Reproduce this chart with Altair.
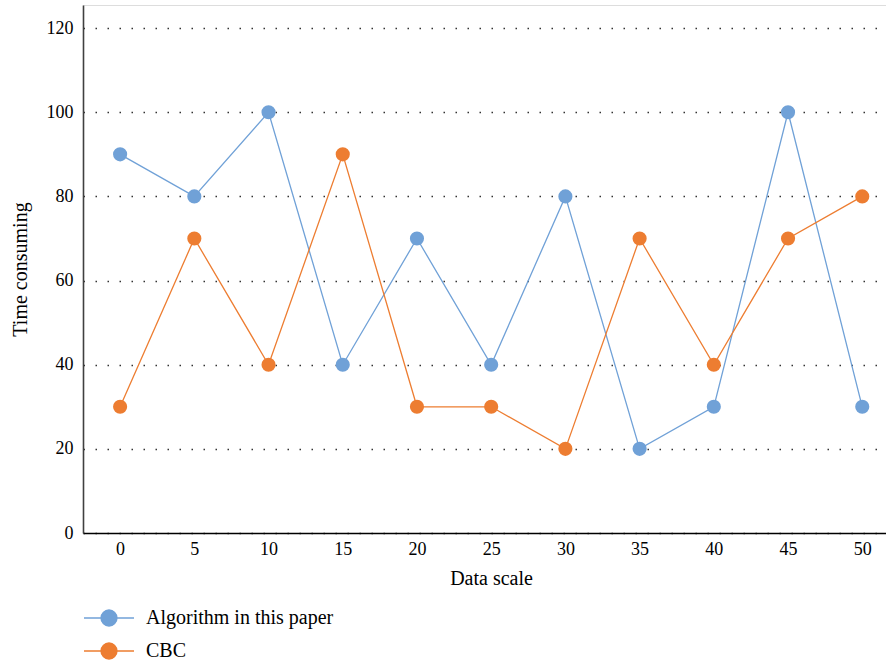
import altair as alt
import pandas as pd

# Data scale (x) and time consumed by each method
data_scale = [0, 5, 10, 15, 20, 25, 30, 35, 40, 45, 50]
algorithm_time = [90, 80, 100, 40, 70, 40, 80, 20, 30, 100, 30]
cbc_time = [30, 70, 40, 90, 30, 30, 20, 70, 40, 70, 80]

series_names = ["Algorithm in this paper", "CBC"]
series_colors = ["#70A1D7", "#ED7D31"]
y_ticks = [0, 20, 40, 60, 80, 100, 120]

rows = []
for name, values in zip(series_names, [algorithm_time, cbc_time]):
    for x, v in zip(data_scale, values):
        rows.append({"scale": x, "time": v, "series": name})
df = pd.DataFrame(rows)

FONT = "Liberation Serif"

# legend glyph: a short line through a filled circle
legend_path = ("M-1.515,0H1.515"
               "M0.485,0A0.485,0.485,0,1,1,-0.485,0A0.485,0.485,0,1,1,0.485,0Z")

color = alt.Color(
    "series:N",
    scale=alt.Scale(domain=series_names, range=series_colors),
    legend=alt.Legend(
        title=None,
        orient="none",
        legendX=8.5,
        legendY=595.5,
        direction="vertical",
        symbolType=legend_path,
        symbolSize=1089,
        symbolStrokeWidth=1.3,
        symbolOpacity=1,
        labelFont=FONT,
        labelFontSize=20,
        labelColor="#000000",
        labelOffset=19.5,
        labelLimit=0,
        rowPadding=4,
        padding=0,
    ),
)

x = alt.X(
    "scale:Q",
    scale=alt.Scale(domain=[-2.5, 51.6], nice=False, zero=False),
    axis=alt.Axis(
        values=data_scale,
        title="Data scale",
        grid=False,
        ticks=False,
        tickSize=0,
        domainColor="#000000",
        domainWidth=1.4,
        labelFont=FONT,
        labelFontSize=18,
        labelColor="#000000",
        labelPadding=7,
        titleFont=FONT,
        titleFontSize=20,
        titleFontWeight="normal",
        titleColor="#000000",
        titleX=408,
        titleY=45,
        titleBaseline="middle",
    ),
)

y = alt.Y(
    "time:Q",
    scale=alt.Scale(domain=[0, 125.5], nice=False),
    axis=alt.Axis(
        values=y_ticks,
        title="Time consuming",
        grid=True,
        gridColor="#333333",
        gridDash=[1.5, 10.5],
        gridWidth=1.3,
        ticks=False,
        tickSize=0,
        domainColor="#404040",
        domainWidth=1.6,
        labelFont=FONT,
        labelFontSize=18,
        labelColor="#000000",
        labelPadding=10,
        titleFont=FONT,
        titleFontSize=20,
        titleFontWeight="normal",
        titleColor="#000000",
        titleX=-63,
        titleY=264,
        titleBaseline="middle",
    ),
)

base = alt.Chart(df).encode(x=x, y=y, color=color)

lines = base.mark_line(strokeWidth=1.3)
points = base.mark_point(filled=True, shape="circle", size=200, opacity=1)

chart = (
    alt.layer(lines, points)
    .properties(
        width=803,
        height=528,
        autosize=alt.AutoSizeParams(type="none"),
        padding={"left": 83, "top": 5, "right": 0, "bottom": 132},
    )
    .configure_view(stroke=None)
    .configure(background="#ffffff")
)

chart.save("out.html", embed_options={"renderer": "svg", "actions": False})
